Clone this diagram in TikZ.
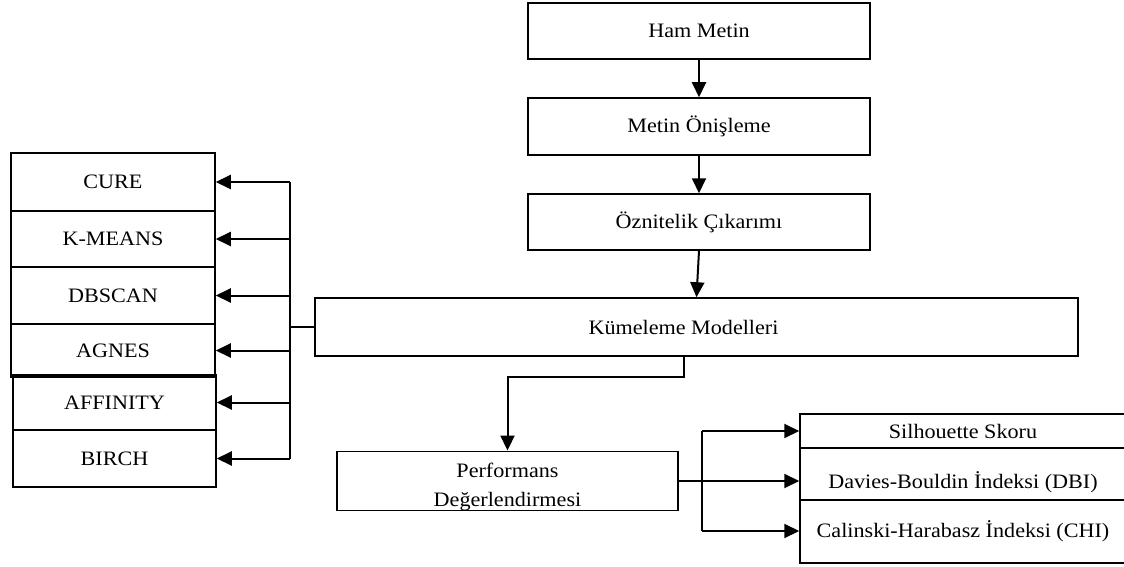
\documentclass[tikz,border=0pt]{standalone}
\usepackage{fontspec}
\setmainfont{Liberation Serif}[FakeStretch=1.08]
\usetikzlibrary{arrows.meta}
\begin{document}
\begin{tikzpicture}[x=1pt,y=-1pt,
  box/.style={draw, line width=1.5pt, inner sep=0pt, align=center, font=\fontsize{20.5}{24.5}\selectfont},
  conn/.style={line width=2pt},
  arr/.style={line width=2pt, -{Triangle[length=15pt,width=14pt]}}]
\useasboundingbox (0,0) rectangle (1124,567);
\fill[white] (0,0) rectangle (1124,567);
% main column
\node[box, minimum width=342pt, minimum height=56pt] (ham) at (699,31) {Ham Metin};
\node[box, minimum width=342pt, minimum height=57pt] (pre) at (699,126.5) {Metin Önişleme};
\node[box, minimum width=342pt, minimum height=56pt] (oz) at (699,222) {Öznitelik Çıkarımı};
\node[box, minimum width=763pt, minimum height=58pt] (kum) at (696.5,327) {\hspace*{-26pt}Kümeleme Modelleri};
\node[box, minimum width=341pt, minimum height=56pt, font=\fontsize{20.5}{29}\selectfont] (perf) at (507.5,481) {\rule{0pt}{26pt}Performans\\Değerlendirmesi};
% left models
\node[box, minimum width=204pt, minimum height=58pt] (cure) at (113,182) {CURE};
\node[box, minimum width=204pt, minimum height=56pt] (kmeans) at (113,239) {K-MEANS};
\node[box, minimum width=204pt, minimum height=57pt] (dbscan) at (113,295.5) {DBSCAN};
\node[box, minimum width=204pt, minimum height=53pt] (agnes) at (113,350.5) {AGNES};
\node[box, minimum width=203pt, minimum height=55pt] (aff) at (114.5,402.5) {AFFINITY};
\node[box, minimum width=203pt, minimum height=57pt] (birch) at (114.5,458.5) {BIRCH};
% right metrics
\node[box, minimum width=340pt, minimum height=34pt] (sil) at (970,431) {\hspace*{-14pt}Silhouette Skoru};
\node[box, minimum width=340pt, minimum height=52pt, text height=32pt, text depth=4pt] (dav) at (970,474) {\hspace*{-14pt}Davies-Bouldin İndeksi (DBI)};
\node[box, minimum width=340pt, minimum height=63pt] (cal) at (970,531.5) {\hspace*{-14pt}Calinski-Harabasz İndeksi (CHI)};
% main arrows
\draw[arr] (ham.south) -- (pre.north);
\draw[arr] (pre.south) -- (oz.north);
\draw[arr] (oz.south) -- (kum.north);
\draw[arr] ([xshift=-12.5pt]kum.south) -- ++(0,20) -| (perf.north);
% left bus
\coordinate (lb) at (290,0);
\draw[conn] (kum.west) -- (kum.west -| lb);
\draw[conn] (lb |- cure.east) -- (lb |- birch.east);
\foreach \n in {cure,kmeans,dbscan,agnes,aff,birch}
  \draw[arr] (lb |- \n.east) -- (\n.east);
% right bus
\coordinate (rb) at (702,0);
\draw[conn] (perf.east) -- (perf.east -| rb);
\draw[conn] (rb |- sil.west) -- (rb |- 0,531);
\draw[arr] (rb |- sil.west) -- (sil.west);
\draw[arr] (rb |- 0,481) -- (dav.west |- 0,481);
\draw[arr] (rb |- 0,531) -- (cal.west |- 0,531);
\end{tikzpicture}
\end{document}
